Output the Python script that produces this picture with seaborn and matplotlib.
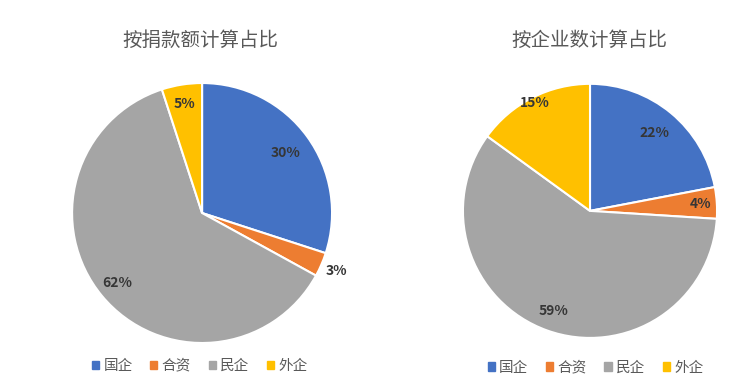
import numpy as np
import matplotlib
matplotlib.use('Agg')
import matplotlib.pyplot as plt
import matplotlib.patches as mpatches
import seaborn as sns

# data
categories = ['国企', '合资', '民企', '外企']
donation_share = [30, 3, 62, 5]
company_share = [22, 4, 59, 15]
titles = ['按捐款额计算占比', '按企业数计算占比']

sns.set_theme(style='white')
plt.rcParams['font.family'] = ['Noto Sans CJK SC', 'DejaVu Sans']
colors = sns.color_palette(['#4472C4', '#ED7D31', '#A5A5A5', '#FFC000'])


def draw_pie(ax, values, label_dist):
    wedges, _ = ax.pie(values, colors=colors, startangle=90, counterclock=False,
                       radius=1, wedgeprops=dict(edgecolor='white', linewidth=1.5))
    for w, v, d in zip(wedges, values, label_dist):
        ang = np.deg2rad((w.theta1 + w.theta2) / 2)
        ax.text(d * np.cos(ang), d * np.sin(ang), f'{v}%', ha='center', va='center',
                fontsize=10, fontweight='bold', color='#363636')
    ax.set_xlim(-1, 1)
    ax.set_ylim(-1, 1)
    ax.set_aspect('equal')


fig = plt.figure(figsize=(7.54, 3.88), dpi=100)
ax1 = fig.add_axes([0.0955, 0.116, 0.345, 0.670])
ax2 = fig.add_axes([0.614, 0.129, 0.337, 0.655])

draw_pie(ax1, donation_share, [0.79, 1.13, 0.85, 0.85])
draw_pie(ax2, company_share, [0.80, 0.87, 0.84, 0.95])

for x, t in zip([0.266, 0.781], titles):
    fig.text(x, 0.897, t, ha='center', va='center', fontsize=14, color='#595959')

handles = [mpatches.Patch(color=c, label=l) for c, l in zip(colors, categories)]
for cx, cy in [(0.265, 0.057), (0.79, 0.052)]:
    fig.legend(handles=handles, loc='center', bbox_to_anchor=(cx, cy), ncol=4,
               frameon=False, fontsize=10.5, handlelength=0.5, handleheight=0.5,
               handletextpad=0.3, columnspacing=1.2, labelcolor='#595959')

fig.savefig('out.png', dpi=100)
